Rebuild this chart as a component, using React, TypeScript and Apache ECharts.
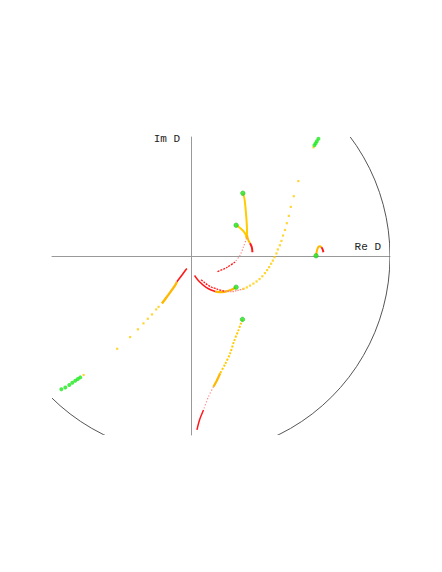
import React, { useEffect, useRef } from "react";
import * as echarts from "echarts";

type P = [number, number];

// axis ranges (Re D, Im D)
const reRange: P = [-0.7, 1.0];
const imRange: P = [-0.9, 0.6];
// unit circle: centre re, centre im, radius
const unitCircle = [[0, 0, 1]];

// Track A (upper middle, ends at red near the real axis)
const aYellow: P[] = [[0.260, 0.317], [0.268, 0.290], [0.275, 0.223], [0.280, 0.156], [0.281, 0.106]];
const aOrange: P[] = [[0.281, 0.106], [0.287, 0.082], [0.296, 0.065]];
const aRed: P[] = [[0.296, 0.065], [0.305, 0.045], [0.308, 0.020]];

// Track B (joins A, then bends down-left)
const bYellow: P[] = [[0.226, 0.156], [0.246, 0.142], [0.263, 0.126], [0.276, 0.106]];
const bOrange: P[] = [[0.276, 0.106], [0.279, 0.090]];
const bPink: P[] = [[0.279, 0.090], [0.263, 0.047], [0.246, 0.005], [0.221, -0.029]];
const bRed: P[] = [[0.221, -0.029], [0.179, -0.057], [0.129, -0.079]];

// Track C (small arch on the real axis)
const cOrange: P[] = [[0.628, 0.002], [0.633, 0.030], [0.640, 0.047], [0.648, 0.050], [0.655, 0.045]];
const cRed: P[] = [[0.655, 0.045], [0.661, 0.035], [0.665, 0.020]];

// Track G (bowl below origin)
const gOrange: P[] = [[0.226, -0.156], [0.213, -0.164], [0.188, -0.174], [0.154, -0.181], [0.121, -0.178]];
const gRed: P[] = [[0.121, -0.178], [0.087, -0.164], [0.062, -0.147], [0.037, -0.124], [0.017, -0.097]];

// Track D (from top right down into the bowl)
const dGreen: P[] = [[0.640, 0.591], [0.632, 0.579], [0.626, 0.568], [0.620, 0.558]];
const dYellow: P[] = [
  [0.615, 0.548], [0.539, 0.378], [0.516, 0.302], [0.501, 0.248], [0.491, 0.203], [0.481, 0.166],
  [0.472, 0.132], [0.462, 0.104], [0.454, 0.077], [0.446, 0.055], [0.436, 0.034], [0.429, 0.014],
  [0.419, -0.005], [0.411, -0.022], [0.402, -0.038], [0.392, -0.055], [0.382, -0.070], [0.371, -0.085],
  [0.358, -0.101], [0.344, -0.115], [0.329, -0.127], [0.313, -0.138], [0.296, -0.148], [0.280, -0.157],
  [0.264, -0.164],
];
const dPink: P[] = [[0.264, -0.164], [0.236, -0.172], [0.201, -0.178], [0.166, -0.176]];
const dRed: P[] = [[0.166, -0.176], [0.131, -0.166], [0.095, -0.152], [0.068, -0.134], [0.048, -0.116]];

// Track E (lower middle)
const eYellow: P[] = [[0.258, -0.318], [0.249, -0.342], [0.238, -0.372], [0.216, -0.427], [0.196, -0.489], [0.171, -0.543], [0.146, -0.589]];
const eOrange: P[] = [[0.146, -0.589], [0.128, -0.628], [0.112, -0.657]];
const ePink: P[] = [[0.112, -0.657], [0.087, -0.707], [0.062, -0.774]];
const eRed: P[] = [[0.062, -0.774], [0.042, -0.824], [0.029, -0.874]];

// Track F (lower left)
const fRed: P[] = [[-0.022, -0.062], [-0.045, -0.093], [-0.072, -0.129]];
const fOrange: P[] = [[-0.072, -0.129], [-0.080, -0.146], [-0.116, -0.196], [-0.147, -0.238]];
const fYellow: P[] = [
  [-0.164, -0.255], [-0.176, -0.268], [-0.197, -0.293], [-0.218, -0.315], [-0.240, -0.338],
  [-0.268, -0.368], [-0.307, -0.407], [-0.372, -0.466], [-0.541, -0.598],
];
const fGreen: P[] = [[-0.558, -0.610], [-0.570, -0.618], [-0.583, -0.627], [-0.598, -0.637], [-0.613, -0.648], [-0.633, -0.661], [-0.653, -0.670]];

// green end points
const greenEnds: P[] = [[0.260, 0.317], [0.226, 0.156], [0.628, 0.002], [0.226, -0.156], [0.258, -0.318]];

const YELLOW = "#ffcc00";
const ORANGE = "#ffb800";
const RED = "#ff1a1a";
const PINK = "#ff8585";
const GREEN = "#1ee81e";

export default function App() {
  const ref = useRef<HTMLDivElement>(null);
  useEffect(() => {
    const chart = echarts.init(ref.current!, null, { renderer: "svg" });
    const line = (data: P[], color: string, width: number, type: any = "solid") => ({
      type: "line",
      data,
      showSymbol: false,
      symbol: "none",
      smooth: 0.3,
      silent: true,
      z: 3,
      lineStyle: { color, width, type },
    });
    const dots = (data: P[], color: string, size: number, symbol = "rect") => ({
      type: "scatter",
      data,
      symbol,
      symbolSize: size,
      silent: true,
      z: 4,
      itemStyle: { color },
    });
    chart.setOption({
      animation: false,
      grid: { left: 52, top: 137, width: 338, height: 298, containLabel: false },
      xAxis: {
        type: "value",
        min: reRange[0],
        max: reRange[1],
        name: "Re D",
        nameLocation: "end",
        nameGap: -9,
        nameTextStyle: { fontFamily: "Liberation Mono", fontSize: 11, color: "#222", align: "right", verticalAlign: "bottom", padding: [0, 0, 4, 0] },
        axisLine: { onZero: true, lineStyle: { color: "#999", width: 1 } },
        axisTick: { show: false },
        axisLabel: { show: false },
        splitLine: { show: false },
      },
      yAxis: {
        type: "value",
        min: imRange[0],
        max: imRange[1],
        name: "Im D",
        nameLocation: "end",
        nameGap: -2,
        nameTextStyle: { fontFamily: "Liberation Mono", fontSize: 11, color: "#222", align: "right", verticalAlign: "middle", padding: [0, 11, 0, 0] },
        axisLine: { onZero: true, lineStyle: { color: "#999", width: 1 } },
        axisTick: { show: false },
        axisLabel: { show: false },
        splitLine: { show: false },
      },
      series: [
        {
          type: "custom",
          data: unitCircle,
          silent: true,
          clip: true,
          z: 2,
          renderItem: (params: any, api: any) => {
            const c = api.coord([api.value(0), api.value(1)]);
            const r = api.size([api.value(2), 0])[0];
            const cs = params.coordSys;
            return {
              type: "circle",
              shape: { cx: c[0], cy: c[1], r },
              style: { fill: "none", stroke: "#555", lineWidth: 1 },
              clipPath: { type: "rect", shape: { x: cs.x, y: cs.y, width: cs.width, height: cs.height } },
            };
          },
        },
        line(aYellow, YELLOW, 2),
        line(aOrange, ORANGE, 2),
        line(aRed, RED, 2),
        line(bYellow, YELLOW, 2),
        line(bOrange, ORANGE, 2),
        line(bPink, PINK, 1.2, [1.2, 1.8]),
        line(bRed, RED, 1.3, [2, 1]),
        line(cOrange, ORANGE, 2),
        line(cRed, RED, 2),
        line(gOrange, ORANGE, 2.2),
        line(gRed, RED, 1.5),
        line(dPink, PINK, 1.3, [1.5, 1]),
        line(dRed, RED, 1.3, [2, 1]),
        line(eYellow, YELLOW, 2, [2, 1.5]),
        line(eOrange, ORANGE, 2.2),
        line(ePink, PINK, 1.2, [1.2, 2]),
        line(eRed, RED, 1.5),
        line(fRed, RED, 1.6),
        line(fOrange, ORANGE, 2.4),
        dots(dYellow, YELLOW, 2.2),
        dots(fYellow, YELLOW, 2.2),
        dots(dGreen, GREEN, 4, "circle"),
        dots(fGreen, GREEN, 4, "circle"),
        {
          type: "scatter",
          data: greenEnds,
          symbol: "circle",
          symbolSize: 4.5,
          silent: true,
          z: 5,
          itemStyle: { color: GREEN, borderColor: "#22aa22", borderWidth: 0.6 },
        },
      ],
    });
    return () => chart.dispose();
  }, []);
  return <div ref={ref} style={{ position: "absolute", left: 0, top: 0, width: 442, height: 572 }} />;
}
